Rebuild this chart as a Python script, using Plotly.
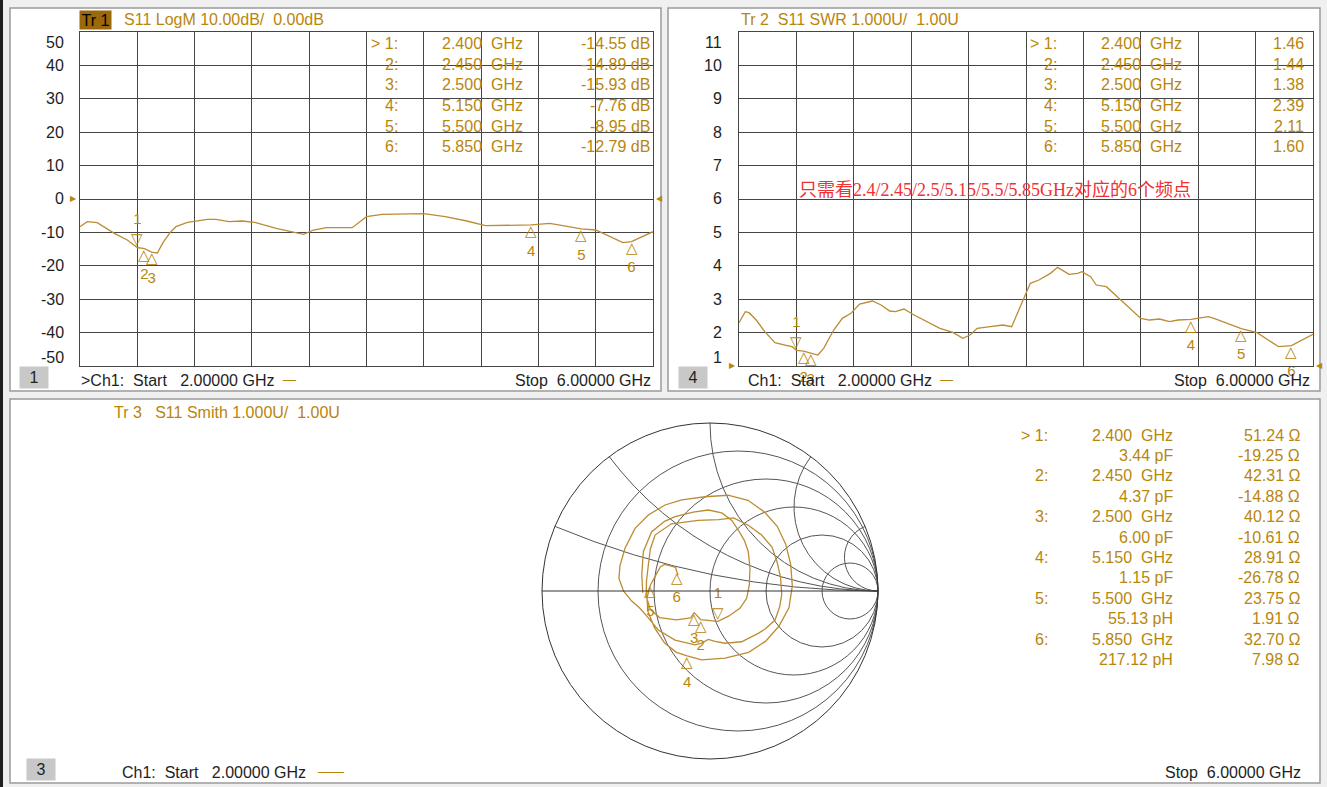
import numpy as np
import plotly.graph_objects as go

W, H = 1327, 787
def fx(x): return x / W
def fy(y): return 1 - y / H

GOLD = "#B8860B"
TRACE = "#BB8C34"
GRID = "#454545"
DARK = "#1e1e1e"
FONT = "Liberation Sans, Arial, sans-serif"
NB = "\u00a0"

# ---------------- data ----------------
logm_freq = [2.00, 2.05, 2.12, 2.24, 2.33, 2.40, 2.45, 2.50, 2.54, 2.58, 2.63, 2.67, 2.75,
             2.89, 2.95, 3.04, 3.13, 3.22, 3.37, 3.49, 3.56, 3.63, 3.72, 3.90, 4.00, 4.11,
             4.25, 4.40, 4.55, 4.70, 4.83, 4.99, 5.15, 5.28, 5.38, 5.50, 5.60, 5.70, 5.79,
             5.85, 5.93, 6.00]
logm_db = [-8.3, -6.8, -7.1, -10.3, -12.3, -14.55, -14.89, -15.93, -16.2, -13.0, -10.0, -8.3, -7.0,
           -6.1, -6.1, -6.8, -6.6, -7.0, -8.8, -9.8, -10.6, -9.3, -8.6, -8.6, -5.3, -4.6,
           -4.6, -4.4, -5.3, -6.6, -8.0, -7.8, -7.76, -7.3, -8.0, -8.95, -9.3, -11.3, -13.1,
           -12.79, -11.3, -9.8]

swr_freq = [2.00, 2.044, 2.07, 2.12, 2.18, 2.25, 2.32, 2.37, 2.40, 2.45, 2.50, 2.55, 2.59, 2.66,
            2.72, 2.78, 2.84, 2.93, 2.99, 3.05, 3.09, 3.15, 3.22, 3.31, 3.40, 3.49, 3.56, 3.61,
            3.66, 3.75, 3.84, 3.90, 3.94, 3.99, 4.03, 4.09, 4.17, 4.22, 4.25, 4.30, 4.36, 4.39,
            4.45, 4.49, 4.56, 4.61, 4.67, 4.72, 4.80, 4.86, 4.93, 5.00, 5.06, 5.15, 5.27, 5.31,
            5.40, 5.50, 5.61, 5.67, 5.76, 5.85, 5.90, 6.00]
swr_val = [2.29, 2.62, 2.59, 2.37, 2.02, 1.69, 1.62, 1.57, 1.46, 1.44, 1.38, 1.32, 1.52, 2.07,
           2.42, 2.57, 2.85, 2.94, 2.82, 2.64, 2.62, 2.70, 2.52, 2.32, 2.12, 2.00, 1.82, 1.92,
           2.12, 2.17, 2.22, 2.17, 2.57, 3.07, 3.47, 3.57, 3.77, 3.95, 3.87, 3.74, 3.77, 3.82,
           3.67, 3.42, 3.37, 3.17, 2.92, 2.72, 2.42, 2.37, 2.40, 2.32, 2.37, 2.39, 2.47, 2.42,
           2.27, 2.11, 1.99, 1.82, 1.57, 1.60, 1.72, 1.94]

marker_ids = ["1", "2", "3", "4", "5", "6"]
marker_freq = [2.40, 2.45, 2.50, 5.15, 5.50, 5.85]
marker_db = [-14.55, -14.89, -15.93, -7.76, -8.95, -12.79]
marker_swr = [1.46, 1.44, 1.38, 2.39, 2.11, 1.60]
marker_r_ohm = [51.24, 42.31, 40.12, 28.91, 23.75, 32.70]
marker_x_ohm = [-19.25, -14.88, -10.61, -26.78, 1.91, 7.98]
marker_lc = ["3.44 pF", "4.37 pF", "6.00 pF", "1.15 pF", "55.13 pH", "217.12 pH"]

smith_gamma_re = [-0.400, -0.406, -0.397, -0.347, -0.270, -0.208, -0.100, -0.010, 0.070, 0.130,
                  0.170, 0.205, 0.228, 0.238, 0.234, 0.218, 0.178, 0.110, 0.047, -0.056,
                  -0.094, -0.115, -0.200, -0.300, -0.355, -0.380, -0.378, -0.367, -0.355, -0.327,
                  -0.230, -0.070, 0.050, 0.140, 0.230, 0.307, 0.370, 0.400, 0.420, 0.427,
                  0.415, 0.387, 0.330, 0.287, 0.188, 0.089, 0.030, -0.010, -0.050, -0.089,
                  -0.208, -0.308, -0.367, -0.420, -0.466, -0.515, -0.542, -0.536, -0.506, -0.446,
                  -0.367, -0.268, -0.168, -0.030, 0.107, 0.226, 0.326, 0.400, 0.450, 0.480,
                  0.490, 0.470, 0.410, 0.330, 0.230, 0.090, -0.050, -0.136, -0.200, -0.270,
                  -0.330, -0.370, -0.375, -0.355, -0.325, -0.295, -0.270, -0.235, -0.205, -0.198,
                  -0.190]
smith_gamma_im = [-0.010, 0.095, 0.234, 0.353, 0.415, 0.442, 0.470, 0.482, 0.465, 0.420,
                  0.360, 0.300, 0.234, 0.135, 0.036, -0.044, -0.103, -0.150, -0.181, -0.170,
                  -0.129, -0.160, -0.172, -0.158, -0.110, -0.030, 0.060, 0.155, 0.250, 0.333,
                  0.400, 0.420, 0.425, 0.435, 0.390, 0.333, 0.260, 0.170, 0.080, -0.020,
                  -0.093, -0.173, -0.225, -0.252, -0.302, -0.311, -0.300, -0.288, -0.310, -0.321,
                  -0.292, -0.232, -0.160, -0.100, -0.060, 0.000, 0.075, 0.150, 0.254, 0.373,
                  0.452, 0.512, 0.542, 0.561, 0.570, 0.540, 0.469, 0.385, 0.280, 0.160,
                  0.030, -0.100, -0.210, -0.300, -0.365, -0.400, -0.410, -0.386, -0.365, -0.310,
                  -0.220, -0.120, -0.040, 0.035, 0.090, 0.145, 0.158, 0.150, 0.140, 0.116,
                  0.095]

logm_yticks = [50, 40, 30, 20, 10, 0, -10, -20, -30, -40, -50]
swr_yticks = [11, 10, 9, 8, 7, 6, 5, 4, 3, 2, 1]
Z0 = 50.0

# ---------------- figure ----------------
fig = go.Figure()

def marker_text(i):
    return f"{marker_ids[i]}<br>\u25BD" if i == 0 else f"\u25B3<br>{marker_ids[i]}"

mk_pos = ["top center"] + ["bottom center"] * 5
mk_txt = [marker_text(i) for i in range(6)]
mk_font = dict(color=GOLD, size=15, family=FONT)

fig.add_trace(go.Scatter(x=logm_freq, y=logm_db, mode="lines",
                         line=dict(color=TRACE, width=1.3), xaxis="x", yaxis="y",
                         hoverinfo="skip"))
fig.add_trace(go.Scatter(x=marker_freq, y=marker_db, mode="text", text=mk_txt,
                         textposition=mk_pos, cliponaxis=False, textfont=mk_font,
                         xaxis="x", yaxis="y", hoverinfo="skip"))
fig.add_trace(go.Scatter(x=swr_freq, y=swr_val, mode="lines",
                         line=dict(color=TRACE, width=1.3), xaxis="x2", yaxis="y2",
                         hoverinfo="skip"))
fig.add_trace(go.Scatter(x=marker_freq, y=marker_swr, mode="text", text=mk_txt,
                         textposition=mk_pos, cliponaxis=False, textfont=mk_font,
                         xaxis="x2", yaxis="y2", hoverinfo="skip"))

g = np.array(smith_gamma_re) + 1j * np.array(smith_gamma_im)
z = (1 + g) / (1 - g)
fig.add_trace(go.Scattersmith(real=z.real, imag=z.imag, mode="lines",
                              line=dict(color=TRACE, width=1.3), hoverinfo="skip"))
fig.add_trace(go.Scattersmith(real=[r / Z0 for r in marker_r_ohm],
                              imag=[x / Z0 for x in marker_x_ohm],
                              mode="text", text=mk_txt, textposition=mk_pos,
                              textfont=mk_font, hoverinfo="skip"))

# panels
shapes = []
for (x0, y0, x1, y1) in [(10, 8, 661, 391), (668, 8, 1320, 391), (10, 399, 1320, 783)]:
    shapes.append(dict(type="rect", xref="paper", yref="paper", x0=fx(x0), x1=fx(x1),
                       y0=fy(y1), y1=fy(y0), fillcolor="white",
                       line=dict(color="#9a9a9a", width=1.5), layer="below"))
shapes.append(dict(type="rect", xref="paper", yref="paper", x0=0, x1=fx(3), y0=0, y1=1,
                   fillcolor="#202020", line=dict(width=0), layer="below"))

ann = []
def text(x, y, s, anchor="left", color=DARK, size=16, **kw):
    ann.append(dict(xref="paper", yref="paper", x=fx(x), y=fy(y), text=s, showarrow=False,
                    xanchor=anchor, yanchor="middle",
                    font=dict(family=kw.pop("family", FONT), size=size, color=color), **kw))

# titles
text(95.5, 20, "Tr 1", anchor="center", color="black", bgcolor="#9B690A", width=31, height=18,
     borderpad=0)
text(122, 20, f"S11 LogM 10.00dB/{NB}{NB}0.00dB", color=GOLD)
text(739, 20, f"Tr 2{NB}{NB}S11 SWR 1.000U/{NB}{NB}1.00U", color=GOLD)
text(112, 412, f"Tr 3{NB}{NB}{NB}S11 Smith 1.000U/{NB}{NB}1.00U", color=GOLD)

# channel boxes and start/stop lines
for (cx, cy, lab) in [(33.5, 378, "1"), (693, 378, "4"), (41.5, 769.5, "3")]:
    text(cx, cy, lab, anchor="center", color="#222", bgcolor="#c8c8c8", width=26, height=19)
text(79, 380, f">Ch1:{NB}{NB}Start{NB}{NB}{NB}2.00000 GHz")
text(281, 379, "\u2014", color=GOLD, size=13)
text(653, 380, f"Stop{NB}{NB}6.00000 GHz", anchor="right")
text(746, 380, f"Ch1:{NB}{NB}Start{NB}{NB}{NB}2.00000 GHz")
text(938, 379, "\u2014", color=GOLD, size=13)
text(1312, 380, f"Stop{NB}{NB}6.00000 GHz", anchor="right")
text(120, 772, f"Ch1:{NB}{NB}Start{NB}{NB}{NB}2.00000 GHz")
text(316, 771, "\u2014\u2014", color=GOLD, size=13)
text(1303, 772, f"Stop{NB}{NB}6.00000 GHz", anchor="right")

# marker tables
rows = [43.3, 64.0, 84.7, 105.4, 126.1, 146.8]
for i in range(6):
    lab = f">{NB}{marker_ids[i]}:" if i == 0 else f"{marker_ids[i]}:"
    freq = f"{marker_freq[i]:.3f}{NB}{NB}GHz"
    text(400, rows[i], lab, anchor="right", color=GOLD)
    text(525, rows[i], freq, anchor="right", color=GOLD)
    text(652, rows[i], f"{marker_db[i]:.2f} dB", anchor="right", color=GOLD)
    text(1059, rows[i], lab, anchor="right", color=GOLD)
    text(1184, rows[i], freq, anchor="right", color=GOLD)
    text(1306, rows[i], f"{marker_swr[i]:.2f}", anchor="right", color=GOLD)
    y1 = 435 + 40.8 * i
    y2 = y1 + 20.4
    text(1050, y1, lab, anchor="right", color=GOLD)
    text(1175, y1, freq, anchor="right", color=GOLD)
    text(1302, y1, f"{marker_r_ohm[i]:.2f} \u03A9", anchor="right", color=GOLD)
    text(1175, y2, marker_lc[i], anchor="right", color=GOLD)
    text(1302, y2, f"{marker_x_ohm[i]:.2f} \u03A9", anchor="right", color=GOLD)

# red note
text(797, 190, "只需看2.4/2.45/2.5/5.15/5.5/5.85GHz对应的6个频点", color="#F03232", size=18,
     family="Liberation Serif, Noto Sans CJK SC, serif")

# y tick labels (data positions)
def yshift_for(i, n):
    return -10 if i == 0 else (8 if i == n - 1 else 0)
for i, v in enumerate(logm_yticks):
    ann.append(dict(xref="paper", yref="y", x=fx(66), y=v, text=str(v), showarrow=False,
                    xanchor="right", yanchor="middle", yshift=yshift_for(i, 11),
                    font=dict(family=FONT, size=16, color=DARK)))
for i, v in enumerate(swr_yticks):
    ann.append(dict(xref="paper", yref="y2", x=fx(724), y=v, text=str(v), showarrow=False,
                    xanchor="right", yanchor="middle", yshift=yshift_for(i, 11),
                    font=dict(family=FONT, size=16, color=DARK)))

# reference level arrows
ann.append(dict(xref="x", yref="y", x=2, y=0, text="\u25B6", showarrow=False, xanchor="right",
                font=dict(size=8, color=GOLD), xshift=-1))
ann.append(dict(xref="x", yref="y", x=6, y=0, text="\u25C0", showarrow=False, xanchor="left",
                font=dict(size=8, color=GOLD), xshift=1))
ann.append(dict(xref="x2", yref="y2", x=2, y=1, text="\u25B6", showarrow=False, xanchor="right",
                font=dict(size=8, color=GOLD), xshift=-1))
ann.append(dict(xref="x2", yref="y2", x=6, y=1, text="\u25C0", showarrow=False, xanchor="left",
                font=dict(size=8, color=GOLD), xshift=1))

ax_common = dict(showgrid=True, gridcolor=GRID, gridwidth=1, zeroline=False, showline=True,
                 mirror=True, linecolor=GRID, linewidth=1, showticklabels=False, ticks="",
                 fixedrange=True)
yd = [fy(365.7), fy(32.3)]
fig.update_layout(
    width=W, height=H, autosize=False,
    margin=dict(l=0, r=0, t=0, b=0),
    paper_bgcolor="#f0f0f0", plot_bgcolor="white",
    showlegend=False,
    xaxis=dict(domain=[fx(80), fx(653)], range=[2, 6], tick0=2, dtick=0.4, anchor="y", **ax_common),
    yaxis=dict(domain=yd, range=[-50, 50], dtick=10, anchor="x", **ax_common),
    xaxis2=dict(domain=[fx(739), fx(1313)], range=[2, 6], tick0=2, dtick=0.4, anchor="y2", **ax_common),
    yaxis2=dict(domain=yd, range=[1, 11], dtick=1, anchor="x2", **ax_common),
    smith=dict(domain=dict(x=[fx(542), fx(878)], y=[fy(759), fy(423)]), bgcolor="white",
               realaxis=dict(tickvals=[0.2, 0.5, 1, 2, 5], showticklabels=False, ticks="",
                             gridcolor="#555555", gridwidth=1, showline=True,
                             linecolor="#333333", linewidth=1),
               imaginaryaxis=dict(tickvals=[0.2, 0.5, 1, 2, 5], showticklabels=False, ticks="",
                                  gridcolor="#555555", gridwidth=1, showline=True,
                                  linecolor="#333333", linewidth=1)),
    shapes=shapes, annotations=ann,
    font=dict(family=FONT),
)

fig.write_html("out.html", config={"displayModeBar": False},
               post_script="document.body.style.margin='0';document.body.style.overflow='hidden';")
